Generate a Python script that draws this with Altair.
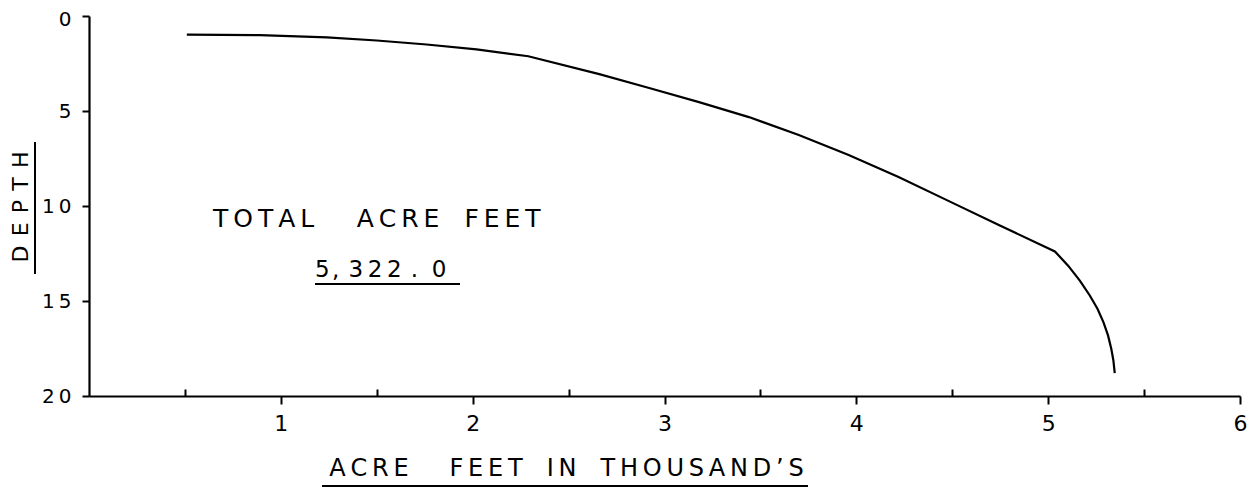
import altair as alt
import pandas as pd

# Curve (x in thousand acre-feet, depth)
acre_feet_thousands = [0.51, 0.89, 1.24, 1.50, 1.76, 2.02, 2.29,
                       2.66, 2.92, 3.18, 3.44, 3.70, 3.96, 4.22, 4.48, 4.74,
                       5.035, 5.104, 5.165, 5.217, 5.257, 5.288, 5.312, 5.329,
                       5.340, 5.347]
depth = [0.98, 1.01, 1.12, 1.29, 1.50, 1.76, 2.12,
         3.06, 3.79, 4.53, 5.32, 6.26, 7.31, 8.47, 9.73, 10.99,
         12.39, 13.14, 13.93, 14.71, 15.41, 16.11, 16.81, 17.51,
         18.13, 18.79]

x_major_ticks = [1, 2, 3, 4, 5, 6]
x_minor_ticks = [0.5, 1.5, 2.5, 3.5, 4.5, 5.5]
y_ticks = [0, 5, 10, 15, 20]

x_title = "ACRE FEET IN THOUSAND\u2019S"
y_title = "DEPTH"
note_title = "TOTAL ACRE FEET"
note_value = "5,322.0"

THIN = "\u2009"
EM = "\u2003"
EN = "\u2002"


def letterspace(text, gaps, sep=THIN):
    words = text.split(" ")
    out = sep.join(words[0])
    for w, g in zip(words[1:], gaps):
        out += g + sep.join(w)
    return out


x_title_s = letterspace(x_title, [EM + EN + THIN, EM, EM])
y_title_s = letterspace(y_title, [], sep=" \u200a")
note_title_s = letterspace(note_title, [EM + EN + THIN, EM])
note_value_s = "5\u200a,\u2009\u20093\u20092\u20092\u2009\u2009.\u2009\u2009\u20090"

FONT = "DejaVu Sans"
W, H = 1151, 380

df = pd.DataFrame({"x": acre_feet_thousands, "y": depth})
one = pd.DataFrame({"t": [note_title_s], "v": [note_value_s]})

xscale = alt.Scale(domain=[0, 6], nice=False, zero=False)
yscale = alt.Scale(domain=[0, 20], reverse=True, nice=False, zero=False)

curve = alt.Chart(df).mark_line(
    color="black", strokeWidth=2.2, interpolate="linear"
).encode(
    x=alt.X("x:Q", scale=xscale, axis=alt.Axis(
        orient="bottom", values=x_major_ticks, grid=False,
        domainColor="black", domainWidth=2.2,
        tickColor="black", tickWidth=2, tickSize=8,
        labelFont=FONT, labelFontSize=22, labelColor="black", labelPadding=9,
        labelFlush=False,
        title=x_title_s, titleFont=FONT, titleFontSize=24, titleFontWeight="normal",
        titleColor="black", titleX=477, titleY=79, titleAlign="center",
        titleBaseline="alphabetic",
    )),
    y=alt.Y("y:Q", scale=yscale, axis=alt.Axis(
        orient="left", values=y_ticks, grid=False,
        domainColor="black", domainWidth=2.2,
        tickColor="black", tickWidth=2, tickSize=7,
        labelFont=FONT, labelFontSize=20, labelColor="black", labelPadding=11,
        labelFlush=False,
        labelOffset={"condition": {"test": "datum.value == 0", "value": 3}, "value": 0},
        labelExpr="join(split(datum.label, ''), '\u2009')",
        title=y_title_s, titleFont=FONT, titleFontSize=22, titleFontWeight="normal",
        titleColor="black", titleX=-62, titleY=190.5, titleAngle=270,
        titleAlign="center", titleBaseline="alphabetic",
    )),
)

minor = alt.Chart(df).mark_point(opacity=0).encode(
    x=alt.X("x:Q", scale=xscale, axis=alt.Axis(
        orient="top", offset=-H, values=x_minor_ticks, grid=False,
        domain=False, labels=False, title=None,
        tickColor="black", tickWidth=2, tickSize=7,
    )),
    y=alt.value(0),
)

note1 = alt.Chart(one).mark_text(
    align="left", baseline="alphabetic", font=FONT, fontSize=25, color="black"
).encode(x=alt.value(124), y=alt.value(211), text="t:N")

note2 = alt.Chart(one).mark_text(
    align="left", baseline="alphabetic", font=FONT, fontSize=23, color="black"
).encode(x=alt.value(226), y=alt.value(261), text="v:N")

u_note = alt.Chart(one).mark_rule(color="black", strokeWidth=2).encode(
    x=alt.value(226), x2=alt.value(371), y=alt.value(268))
u_x = alt.Chart(one).mark_rule(color="black", strokeWidth=2).encode(
    x=alt.value(233), x2=alt.value(719), y=alt.value(470))
u_y = alt.Chart(one).mark_rule(color="black", strokeWidth=2).encode(
    x=alt.value(-54), y=alt.value(126), y2=alt.value(258))

chart = alt.layer(curve, minor, note1, note2, u_note, u_x, u_y).resolve_axis(
    x="independent"
).properties(
    width=W, height=H,
    padding={"left": 81, "top": 8, "right": 7, "bottom": 92},
    autosize=alt.AutoSizeParams(type="none"),
    background="white",
).configure_view(stroke=None)

chart.save("out.html", embed_options={"renderer": "svg", "actions": False})
